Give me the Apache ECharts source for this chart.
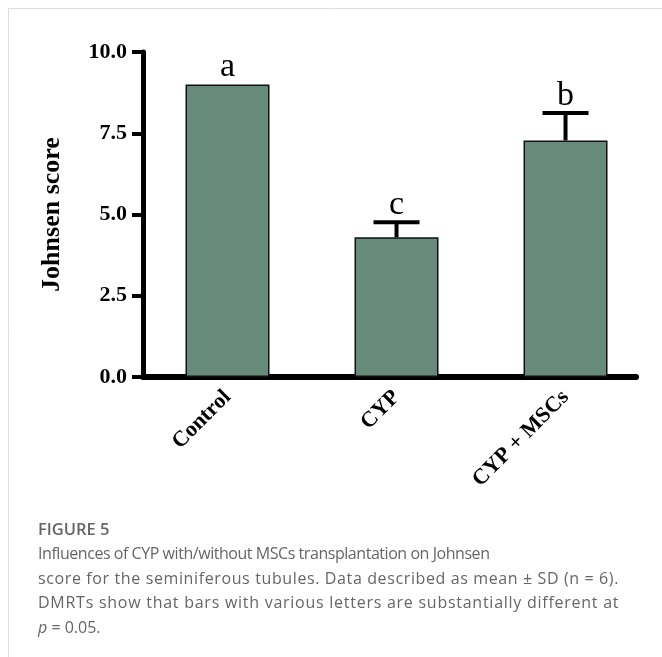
<!DOCTYPE html>
<html>
<head>
<meta charset="utf-8">
<script src="https://cdn.jsdelivr.net/npm/echarts@6/dist/echarts.min.js"></script>
<style>
html,body{margin:0;padding:0;background:#fff;}
#wrap{position:relative;width:662px;height:657px;}
#chart{position:absolute;left:0;top:0;width:662px;height:657px;}
#caption{position:absolute;left:38px;top:517px;width:600px;font-family:"Open Sans","Noto Sans",sans-serif;color:#666;}
#caption .fig{font-size:16.5px;font-weight:600;line-height:24px;}
#caption .ln{font-size:16px;line-height:24.5px;white-space:nowrap;}
#caption .ln1{letter-spacing:-0.45px;}
#caption .ln2{letter-spacing:0.62px;}
#caption .ln3{letter-spacing:0.74px;}
</style>
</head>
<body>
<div id="wrap">
<div id="chart"></div>
<div id="caption"></div>
</div>
<script>
const categories = ['Control', 'CYP', 'CYP + MSCs'];
const means = [9.0, 4.3, 7.28];
const sds = [0, 0.46, 0.84];
const letters = ['a', 'c', 'b'];
const yTicks = [0, 2.5, 5.0, 7.5, 10.0];

const figureLabel = 'FIGURE 5';
const captionLines = [
  'Influences of CYP with/without MSCs transplantation on Johnsen',
  'score for the seminiferous tubules. Data described as mean \u00B1 SD (n = 6).',
  'DMRTs show that bars with various letters are substantially different at'
];
const captionLast = ' = 0.05.';

const serif = '"Liberation Serif", "DejaVu Serif", serif';

// caption (real HTML text)
(function () {
  const cap = document.getElementById('caption');
  const f = document.createElement('div');
  f.className = 'fig'; f.textContent = figureLabel; cap.appendChild(f);
  captionLines.forEach((t, i) => {
    const d = document.createElement('div');
    d.className = 'ln ln' + (i + 1);
    d.textContent = t; cap.appendChild(d);
  });
  const last = document.createElement('div');
  last.className = 'ln';
  const p = document.createElement('i'); p.textContent = 'p';
  last.appendChild(p); last.appendChild(document.createTextNode(captionLast));
  cap.appendChild(last);
})();

const positions = categories.map((c, i) => i + 0.5);
const barData = means.map((m, i) => [positions[i], m]);
const errData = means.map((m, i) => [positions[i], m, sds[i]]);

const chart = echarts.init(document.getElementById('chart'), null, {renderer: 'canvas'});

chart.setOption({
  animation: false,
  backgroundColor: 'transparent',
  grid: {left: 143, top: 52, right: 26, bottom: 280, containLabel: false},
  xAxis: {
    type: 'value',
    min: 0,
    max: 2.917,
    axisLine: {show: true, onZero: false, lineStyle: {color: '#000', width: 6}},
    axisTick: {show: false},
    splitLine: {show: false},
    axisLabel: {
      customValues: positions,
      rotate: 45,
      margin: 17,
      formatter: function (v) {
        const i = Math.round(v - 0.5);
        return categories[i] || '';
      },
      color: '#000',
      fontFamily: serif,
      fontWeight: 'bold',
      fontSize: 22
    }
  },
  yAxis: {
    type: 'value',
    min: 0,
    max: 10,
    interval: 2.5,
    name: 'Johnsen score',
    nameLocation: 'middle',
    nameGap: 78,
    nameRotate: 90,
    nameTextStyle: {color: '#000', fontFamily: serif, fontWeight: 'bold', fontSize: 26},
    axisLine: {show: true, lineStyle: {color: '#000', width: 5}},
    axisTick: {show: true, length: 11, lineStyle: {color: '#000', width: 4}},
    splitLine: {show: false},
    axisLabel: {
      margin: 16,
      color: '#000',
      fontFamily: serif,
      fontWeight: 'bold',
      fontSize: 22,
      formatter: v => v.toFixed(1)
    }
  },
  series: [
    {
      type: 'bar',
      data: barData,
      barWidth: 84,
      itemStyle: {color: '#678b7a', borderColor: '#111', borderWidth: 1.5},
      z: 2
    },
    {
      type: 'custom',
      data: errData,
      z: 3,
      renderItem: function (params, api) {
        const x = api.value(0), m = api.value(1), sd = api.value(2);
        const letter = letters[params.dataIndex];
        const base = api.coord([x, m]);
        const top = api.coord([x, m + sd]);
        const children = [];
        if (sd > 0) {
          children.push({type: 'line', shape: {x1: base[0], y1: base[1], x2: top[0], y2: top[1]},
            style: {stroke: '#000', lineWidth: 4}});
          children.push({type: 'line', shape: {x1: top[0] - 23, y1: top[1], x2: top[0] + 23, y2: top[1]},
            style: {stroke: '#000', lineWidth: 4}});
        }
        children.push({type: 'text', x: top[0], y: top[1] - 17,
          style: {text: letter, fill: '#000', font: '34px ' + serif, textAlign: 'center', textVerticalAlign: 'middle'}});
        return {type: 'group', children: children};
      }
    }
  ],
  graphic: [
    {type: 'line', shape: {x1: 8.5, y1: 8.5, x2: 662, y2: 8.5}, style: {stroke: '#dcdcdc', lineWidth: 1}},
    {type: 'line', shape: {x1: 8.5, y1: 8.5, x2: 8.5, y2: 657}, style: {stroke: '#dcdcdc', lineWidth: 1}}
  ]
});
</script>
</body>
</html>
